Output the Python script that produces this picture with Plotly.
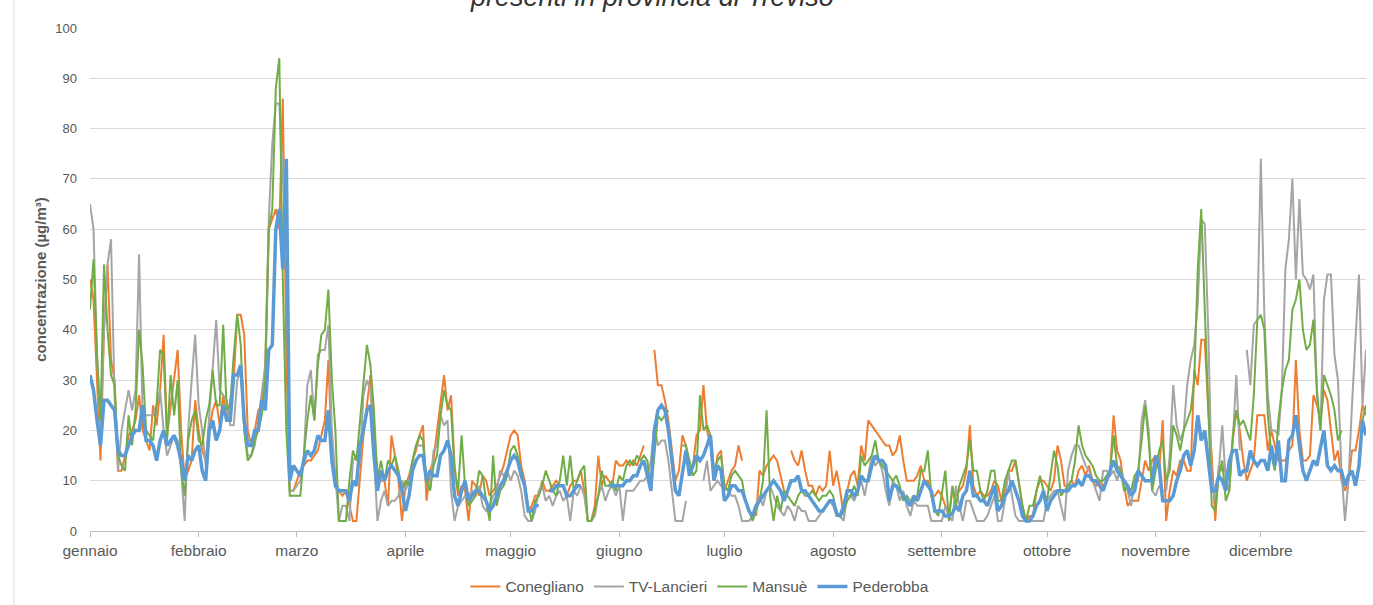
import pandas as pd
import plotly.graph_objects as go

N = None
# Daily PM10 values (µg/m³), one list per month for readability
conegliano = (
    [50, 46, 30, 14, 40, 53, 34, 30, 12, 12, 15, 19, 20, 22, 27, 20, 18, 16, 25, 21, 28, 39, 19, 25, 30, 36, 20, 10, 12, 14, 26]
    + [20, 16, 14, 20, 24, 26, 21, 27, 22, 26, 30, 43, 43, 39, 20, 17, 20, 24, 25, 33, 60, 62, 64, 60, 86, 35, 8, 8]
    + [10, 12, 13, 14, 14, 15, 16, 19, 22, 34, 15, 10, 8, 7, 8, 5, 2, 2, 10, 19, 25, 31, 20, 12, 10, 10, 5, 19, 15, 10, 2]
    + [9, 11, 14, 16, 19, 21, 6, 12, 14, 20, 26, 31, 24, 27, 13, 7, 9, 8, 2, 10, 9, 7, 11, 10, 7, 8, 9, 11, 13, 16]
    + [19, 20, 19, 13, 10, 4, 5, 7, 7, 10, 8, 8, 9, 10, 9, 9, 7, 9, 10, 10, 12, 8, 2, 2, 5, 15, 9, 11, 10, 9, 14]
    + [13, 13, 14, 13, 14, 13, 15, 17, N, N, 36, 29, 29, 26, 22, 16, 10, 12, 19, 17, 12, 13, 19, 20, 29, 20, 17, 10, 15, 16]
    + [8, 10, 12, 13, 17, 14, N, N, N, 3, 12, 11, 13, 14, 15, 14, 11, 8, N, 16, 14, 13, 16, 12, 9, 9, 7, 9, 8, 9, 16]
    + [9, 12, 8, 3, 8, 11, 12, 9, 17, 14, 22, 21, 20, 19, 18, 17, 17, 15, 16, 19, 14, 10, 10, 10, 11, 13, 10, 10, 7, 7, 8]
    + [7, 5, 3, 8, 7, 8, 9, 12, 21, 9, 7, 8, 7, 7, 8, 10, 9, 6, 8, 12, 12, 14, 9, 5, 2, 3, 3, 8, 10, 10]
    + [9, 8, 10, 17, 14, 9, 9, 10, 9, 12, 13, 11, 13, 10, 9, 10, 9, 10, 12, 23, 16, 14, 9, 5, 6, 6, 6, 10, 14, 12, 14]
    + [15, 12, 22, 2, 8, 12, 11, 14, 14, 12, 12, 32, 29, 38, 38, 24, 15, 2, 13, 12, 12, 12, 18, 24, 20, 14, 10, 12, 14, 23]
    + [23, 23, 16, 20, 17, 14, 14, 14, 16, 17, 34, 20, 14, 14, 15, 27, 25, 22, 28, 26, 20, 14, 16, 10, 8, 10, 16, 16, 20, 25, 23]
)
tv_lancieri = (
    [65, 60, 35, 20, 40, 53, 58, 27, 12, 20, 24, 28, 24, 28, 55, 23, 23, 23, 23, 25, 28, 20, 15, 17, 19, 18, 12, 2, 20, 30, 39]
    + [25, 20, 13, 23, 33, 42, 28, 27, 26, 21, 21, 30, 32, 20, 15, 15, 17, 22, 27, 33, 62, 77, 85, 85, 70, 60, 8, 8]
    + [9, 10, 15, 29, 32, 22, 35, 36, 36, 41, 20, 10, 2, 5, 5, 2, 14, 15, 14, 27, 30, 28, 15, 2, 6, 8, 5, 6, 6, 7, 10]
    + [8, 10, 14, 17, 17, 17, 10, 8, 16, 17, 23, 21, 22, 8, 2, 5, 6, 7, 7, 8, 7, 9, 5, 4, 5, 7, 8, 12, 11, 12]
    + [10, 12, 11, 8, 3, 2, 2, 4, 8, 9, 6, 7, 5, 7, 8, 6, 7, 2, 8, 7, 9, 7, 2, 2, 3, 7, 9, 6, 8, 9, 7]
    + [9, 2, 8, 8, 8, 9, 10, 10, 11, 14, 21, 17, 18, 18, 14, 8, 2, 2, 2, 6, N, N, N, N, 10, 14, 8, 9, 10, 9]
    + [9, 8, 7, 7, 5, 2, 2, 2, 3, 5, 7, 5, 8, 9, 7, 5, 4, 3, 5, 4, 2, 5, 4, 4, 2, 2, 2, 3, 4, 5, 6]
    + [5, 3, 3, 2, 7, 7, 6, 8, 10, 7, 11, 15, 13, 14, 12, 8, 5, 10, 9, 6, 8, 5, 3, 6, 5, 5, 5, 5, 2, 2, 2]
    + [2, 5, 3, 2, 9, 5, 2, 6, 6, 4, 2, 2, 2, 3, 5, 7, 2, 2, 6, 12, 7, 3, 2, 2, 2, 2, 2, 2, 2, 2]
    + [6, 7, 8, 8, 5, 2, 12, 15, 17, 17, 15, 13, 12, 10, 8, 6, 12, 12, 11, 12, 10, 13, 9, 8, 5, 10, 10, 22, 26, 20, 8]
    + [7, 9, 8, 8, 15, 29, 21, 18, 20, 29, 34, 37, 45, 62, 61, 40, 10, 6, 12, 21, 10, 8, 18, 31, 16, N, 36, 29, 41, 42]
    + [74, 43, 27, 20, 20, 19, 28, 52, 58, 70, 50, 66, 51, 50, 48, 51, 27, 20, 46, 51, 51, 35, 30, 12, 2, 10, 25, 37, 51, 25, 36]
)
mansue = (
    [44, 54, 35, 22, 53, 40, 31, 29, 15, 13, 12, 23, 17, 24, 40, 33, 20, 19, 18, 25, 36, 35, 18, 31, 23, 30, 12, 7, 18, 22, 24]
    + [18, 17, 22, 25, 32, 25, 25, 41, 24, 25, 35, 43, 37, 20, 14, 15, 18, 20, 23, 30, 60, 64, 88, 94, 50, 20, 7, 7]
    + [7, 7, 15, 22, 27, 22, 33, 39, 40, 48, 30, 20, 2, 2, 2, 10, 16, 14, 22, 29, 37, 33, 24, 10, 14, 10, 14, 13, 15, 12, 8]
    + [10, 9, 14, 17, 19, 18, 10, 8, 13, 15, 23, 28, 25, 24, 12, 8, 19, 9, 5, 6, 7, 12, 11, 6, 2, 15, 5, 8, 9, 11]
    + [16, 17, 15, 12, 9, 5, 2, 6, 7, 9, 12, 10, 8, 7, 10, 15, 9, 15, 8, 10, 12, 13, 2, 2, 4, 7, 12, 9, 9, 10, 8]
    + [11, 10, 13, 14, 13, 15, 14, 15, 14, 8, 15, 23, 22, 23, 24, N, N, N, 17, 17, 14, 11, 12, 27, 20, 21, 19, 12, 14, 15]
    + [9, 8, 11, 12, 11, 10, 6, 4, 2, 4, 6, 10, 24, 7, 2, 7, 4, 8, 7, 6, 5, 7, 8, 7, 7, 8, 7, 6, 7, 7, 8]
    + [7, 3, 3, 4, 6, 7, 9, 7, 15, 13, 14, 15, 18, 14, 13, 12, 11, 10, 11, 9, 6, 7, 6, 6, 7, 12, 12, 16, 7, 4, 3]
    + [8, 12, 2, 9, 5, 9, 11, 13, 18, 12, 12, 8, 6, 8, 12, 12, 6, 6, 10, 12, 14, 14, 9, 5, 2, 5, 5, 8, 11, 8]
    + [6, 11, 16, 13, 7, 8, 9, 10, 14, 21, 17, 15, 14, 13, 11, 10, 10, 11, 12, 19, 13, 12, 8, 9, 8, 11, 12, 18, 25, 18, 8]
    + [12, 16, 18, 10, 12, 21, 19, 16, 20, 22, 24, 30, 52, 64, 45, 22, 5, 4, 11, 14, 6, 8, 19, 24, 21, 22, 20, 18, 27, 42]
    + [43, 40, 23, 15, 12, 22, 28, 32, 34, 44, 46, 50, 40, 36, 37, 42, 28, 20, 31, 29, 27, 24, 18, 20, N, N, N, N, N, 22, 25]
)
pederobba = (
    [31, 28, 22, 17, 26, 26, 25, 24, 16, 15, 15, 17, 19, 20, 20, 25, 18, 18, 17, 14, 18, 20, 17, 18, 19, 17, 14, 10, 15, 14, 16]
    + [17, 12, 10, 20, 22, 18, 20, 25, 22, 22, 31, 31, 33, 22, 17, 17, 20, 20, 26, 24, 36, 37, 60, 64, 52, 74, 10, 13]
    + [12, 11, 14, 16, 15, 16, 19, 18, 18, 24, 14, 9, 8, 8, 8, 6, 10, 9, 17, 20, 24, 25, 15, 8, 12, 10, 12, 13, 12, 11, 8]
    + [4, 7, 12, 14, 15, 15, 10, 12, 11, 11, 15, 16, 18, 15, 7, 5, 8, 10, 6, 7, 8, 8, 7, 6, 4, 5, 7, 9, 10, 12]
    + [14, 15, 14, 11, 9, 4, 4, 5, 5, N, N, 8, 8, 9, 9, 9, 7, 7, 8, 9, 9, N, N, N, N, N, N, N, 9, 9, 9]
    + [9, 9, 10, 10, 11, 11, 13, 14, 11, 8, 20, 24, 25, 24, 20, 14, 8, 7, 12, 16, 11, 13, 15, 14, 15, 17, 19, 10, 13, 12]
    + [6, 7, 9, 9, 8, 8, 6, 4, 3, 5, 6, 7, 8, 9, 10, 9, 8, 6, 8, 10, 10, 11, 8, 8, 7, 6, 5, 4, 4, 5, 6]
    + [6, 3.5, 3, 5, 8, 8, 7, 8, 11, 10, 10, 13, 15, 14, 14, 13, 6, 9, 9, 8, 7, 6, 5, 7, 6, 8, 10, 9, 8, 4, 4]
    + [4, 3, 3, 3.5, 5, 4, 7, 8, 12, 7, 7, 6, 6, 5, 7, 9, 4, 5, 7, 8, 10, 8, 6, 3, 2, 2, 3, 5, 6, 8]
    + [4, 6, 7, 8, 8, 8, 8, 9, 9, 10, 9, 11, 11, 10, 10, 9, 8, 10, 12, 14, 12, 11, 10, 9, 7, 8, 12, 11, 10, 10, 10]
    + [15, 13, 6, 6, 6, 7, 10, 12, 15, 16, 13, 16, 23, 18, 20, 14, 8, 8, 11, 10, 8, 14, 16, 16, 11, 12, 12, 16, 14, 13]
    + [14, 14, 12, 17, 13, 18, 10, 10, 18, 19, 23, 17, 12, 10, 12, 14, 13, 17, 20, 13, 12, 13, 12, 12, 9, 11, 12, 9, 13, 22, 19]
)

month_labels = ["gennaio", "febbraio", "marzo", "aprile", "maggio", "giugno",
                "luglio", "agosto", "settembre", "ottobre", "novembre", "dicembre"]
series_names = ["Conegliano", "TV-Lancieri", "Mansuè", "Pederobba"]
series_colors = ["#ED7D31", "#A5A5A5", "#70AD47", "#5B9BD5"]
series_widths = [2, 2, 2, 3.5]

dates = pd.date_range("2021-01-01", "2021-12-31", freq="D")
month_starts = pd.date_range("2021-01-01", "2021-12-01", freq="MS")

fig = go.Figure()
for name, vals, col, w in zip(series_names, [conegliano, tv_lancieri, mansue, pederobba],
                              series_colors, series_widths):
    fig.add_trace(go.Scatter(x=dates, y=vals, mode="lines", name=name,
                             line=dict(color=col, width=w), connectgaps=False))

W, H = 1373, 605
FONT = "Liberation Sans, Arial, sans-serif"
fig.update_layout(
    width=W, height=H,
    margin=dict(l=90, r=7, t=28, b=74, autoexpand=False),
    paper_bgcolor="white", plot_bgcolor="white",
    font=dict(family=FONT, color="#595959", size=13),
    showlegend=True,
    legend=dict(orientation="h", x=0.478, xanchor="center", y=-0.111, yanchor="middle",
                font=dict(size=15.5, color="#595959"), itemwidth=30),
    xaxis=dict(type="date", range=["2021-01-01", "2021-12-31"],
               tickvals=month_starts, ticktext=month_labels,
               ticks="outside", ticklen=5, tickcolor="#BFBFBF",
               showline=True, linecolor="#BFBFBF", linewidth=1,
               showgrid=False, zeroline=False,
               tickfont=dict(size=15.5, color="#595959")),
    yaxis=dict(range=[0, 100], dtick=10, showgrid=True, gridcolor="#D9D9D9", gridwidth=1,
               zeroline=False, showline=False, ticks="", ticklabelstandoff=12,
               tickfont=dict(size=13, color="#595959"),
               title=dict(text="<b>concentrazione (µg/m³)</b>", standoff=5,
                          font=dict(size=15, color="#595959", family=FONT))),
)

# chart title, cut off at the top edge as in the original
fig.add_annotation(text="<i>presenti in provincia di Treviso</i>", xref="paper", yref="paper",
                   x=(652 - 90) / 1276, y=1, xanchor="center", yanchor="bottom", yshift=14,
                   showarrow=False, font=dict(size=27, color="#333333", family=FONT))
fig.add_shape(type="line", xref="paper", yref="paper",
              x0=(14 - 90) / 1276, x1=(14 - 90) / 1276, y0=-0.2, y1=1.2,
              line=dict(color="#D9D9D9", width=1))

fig.write_html("out.html", config={"displayModeBar": False},
               post_script="document.body.style.margin='0';")
